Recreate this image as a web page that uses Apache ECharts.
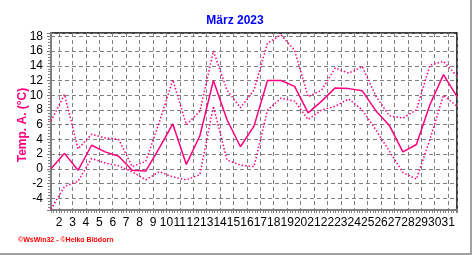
<!DOCTYPE html>
<html><head><meta charset="utf-8">
<script src="https://cdn.jsdelivr.net/npm/echarts@6/dist/echarts.min.js"></script>
<style>
html,body{margin:0;padding:0;background:#fff;}
#frame{width:472px;height:255px;box-sizing:border-box;border-right:2px solid #a0a0a0;border-bottom:2px solid #a0a0a0;}
#chart{width:470px;height:253px;}
</style></head><body>
<div id="frame"><div id="chart"></div></div>
<script>
const days = [1,2,3,4,5,6,7,8,9,10,11,12,13,14,15,16,17,18,19,20,21,22,23,24,25,26,27,28,29,30,31];
const dayTickLabels = [2,3,4,5,6,7,8,9,10,11,12,13,14,15,16,17,18,19,20,21,22,23,24,25,26,27,28,29,30,31];
const tempTickLabels = [-4,-2,0,2,4,6,8,10,12,14,16,18];
const tempMean = [0.0,2.1,-0.2,3.2,2.3,1.7,-0.2,-0.3,2.8,6.1,0.6,4.5,12.0,6.7,3.0,5.8,12.0,12.0,11.2,7.6,9.2,11.0,10.9,10.6,7.9,5.9,2.3,3.3,8.7,12.8,9.8];
const tempMax  = [6.5,10.1,2.7,4.7,4.2,4.0,0.3,1.0,6.3,12.1,6.0,7.8,16.0,10.7,8.3,10.7,17.1,18.2,16.1,9.8,10.7,13.7,13.0,13.9,9.9,7.2,6.9,8.0,14.1,14.6,12.6];
const tempMin  = [-5.5,-2.4,-1.7,1.4,0.8,0.4,-0.4,-1.5,-0.4,-1.1,-1.5,-0.8,8.5,1.2,0.5,0.3,8.0,9.6,9.2,6.7,8.0,8.5,9.5,8.0,5.3,2.4,-0.5,-1.4,4.0,10.0,8.5];

const pink = '#ff0080';
const gridColor = '#808080';
const chart = echarts.init(document.getElementById('chart'), null, {renderer:'canvas'});
const toPairs = arr => days.map((d,i)=>[d, arr[i]]);

chart.setOption({
  animation:false,
  backgroundColor:'#fff',
  title:{text:'März 2023', left:'center', top:10,
    textStyle:{color:'#0000ff', fontSize:12, fontWeight:'bold', fontFamily:'Liberation Sans, Arial, sans-serif'}},
  grid:{left:51, top:33, width:406, height:177, show:true, borderColor:'#000', borderWidth:1.5, backgroundColor:'transparent'},
  xAxis:[
    {type:'value', min:1, max:31, show:false, gridIndex:0},
    {type:'value', min:1.4, max:31.66, minInterval:1, maxInterval:1, position:'bottom', gridIndex:0,
      axisLine:{show:true, onZero:false, lineStyle:{color:gridColor, width:2}},
      axisTick:{show:true, length:3, lineStyle:{color:gridColor}},
      minorTick:{show:true, splitNumber:5, length:3, lineStyle:{color:gridColor}},
      axisLabel:{showMinLabel:false, showMaxLabel:false, margin:7, color:'#000', fontSize:12,
        fontFamily:'Liberation Sans, Arial, sans-serif',
        formatter:v => dayTickLabels.includes(v) ? String(v) : ''},
      splitLine:{show:true, lineStyle:{type:[4,3], color:gridColor, width:1}}
    }
  ],
  yAxis:{type:'value', min:-5.6, max:18.46, minInterval:2, maxInterval:2,
    axisLine:{show:true, onZero:false, lineStyle:{color:gridColor, width:2}},
    axisTick:{show:true, length:4, lineStyle:{color:gridColor}},
    minorTick:{show:true, splitNumber:5, length:3, lineStyle:{color:gridColor}},
    axisLabel:{showMinLabel:false, showMaxLabel:false, margin:8, color:'#000', fontSize:12,
      fontFamily:'Liberation Sans, Arial, sans-serif',
      formatter:v => tempTickLabels.includes(v) ? String(v) : ''},
    splitLine:{show:true, lineStyle:{type:[4,3], color:gridColor, width:1}}
  },
  graphic:[
    {type:'text', x:22.5, y:125, rotation:Math.PI/2,
      style:{text:'Temp. A. (°C)', fill:pink, font:'bold 12px "Liberation Sans", Arial, sans-serif', textAlign:'center', textVerticalAlign:'middle'}},
    {type:'text', left:18, top:237,
      style:{text:'©WsWin32 - ©Heiko Blödorn', fill:'#ff0000', font:'bold 7px "Liberation Sans", Arial, sans-serif'}}
  ],
  series:[
    {type:'line', name:'Max', xAxisIndex:0, data:toPairs(tempMax), symbol:'none',
      lineStyle:{color:pink, width:1.5, type:[1.5,2]}},
    {type:'line', name:'Min', xAxisIndex:0, data:toPairs(tempMin), symbol:'none',
      lineStyle:{color:pink, width:1.5, type:[1.5,2]}},
    {type:'line', name:'Mittel', xAxisIndex:0, data:toPairs(tempMean), symbol:'none',
      lineStyle:{color:pink, width:1.5}}
  ]
});
</script>
</body></html>
